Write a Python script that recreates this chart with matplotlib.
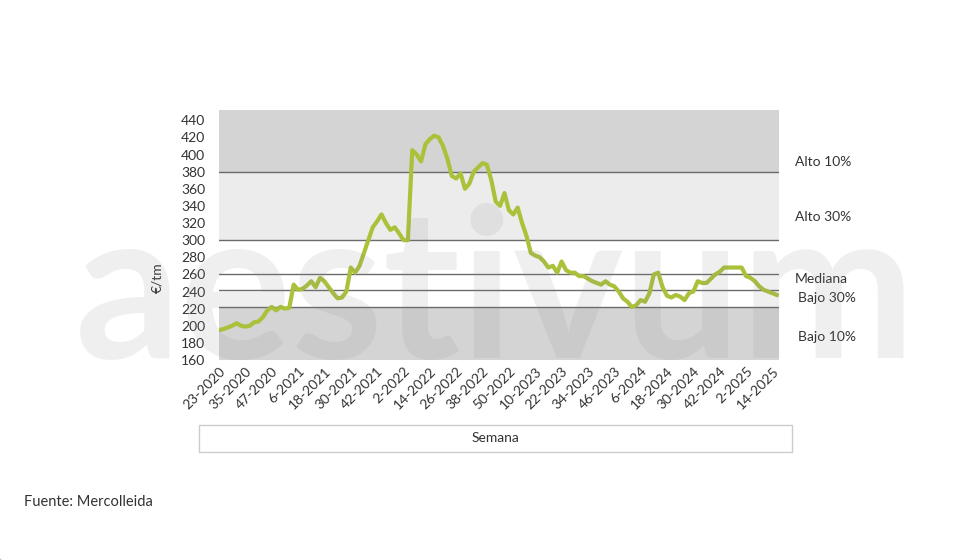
import matplotlib
matplotlib.use('Agg')
import matplotlib.pyplot as plt
from matplotlib.patches import Rectangle

plt.rcParams['font.family'] = ['Lato', 'DejaVu Sans']

# biweekly prices, starting week 23-2020
prices = [
    195, 196, 198, 200, 203, 200,
    199, 200, 204, 205, 210, 218,
    222, 218, 222, 220, 221, 248,
    242, 243, 247, 252, 245, 256,
    252, 245, 238, 232, 233, 240,
    268, 262, 270, 285, 300, 315,
    322, 330, 320, 312, 315, 308,
    300, 300, 405, 400, 392, 412,
    418, 422, 420, 410, 395, 375,
    372, 378, 360, 366, 380, 385,
    390, 388, 370, 345, 340, 355,
    335, 330, 338, 320, 305, 285,
    282, 280, 275, 268, 270, 262,
    275, 265, 262, 262, 258, 258,
    255, 252, 250, 248, 252, 248,
    246, 240, 232, 228, 222, 224,
    230, 228, 238, 260, 262, 245,
    235, 233, 236, 234, 230, 238,
    240, 252, 250, 250, 255, 260,
    263, 268, 268, 268, 268, 268,
    258, 256, 252, 246, 242, 240,
    238, 236,
]
tick_labels = ['23-2020', '35-2020', '47-2020', '6-2021', '18-2021', '30-2021', '42-2021',
               '2-2022', '14-2022', '26-2022', '38-2022', '50-2022', '10-2023', '22-2023',
               '34-2023', '46-2023', '6-2024', '18-2024', '30-2024', '42-2024', '2-2025',
               '14-2025']
band_lines = [222, 242, 260, 300, 380]
band_names = ['Alto 10%', 'Alto 30%', 'Mediana', 'Bajo 30%', 'Bajo 10%']
band_label_y = [391, 327, 255, 232, 187]
band_label_dx = [16, 16, 16, 19, 19]

W, H = 980, 560
fig = plt.figure(figsize=(W / 100, H / 100), dpi=100)
ax = fig.add_axes((219 / W, 1 - 360 / H, 560 / W, 250 / H))

x = [i * 2 for i in range(len(prices))]
xmax = 255
ymax = 452
ax.axhspan(150, band_lines[0], color='#d4d4d4', lw=0)
ax.axhspan(band_lines[3], band_lines[4], color='#ececec', lw=0)
ax.axhspan(band_lines[4], ymax, color='#d4d4d4', lw=0)
for v in band_lines:
    ax.axhline(v, color='#6b6b6b', lw=1)
ax.plot(x, prices, color='#a9c23a', lw=3, solid_joinstyle='round', zorder=5)

# watermark
fig.text(495 / W, 1 - 298 / H, 'aestivum', fontsize=150, color='#888888', alpha=0.13,
         ha='center', va='center', fontweight='bold', zorder=4)

ax.set_xlim(0, xmax)
ax.set_ylim(160, ymax)
ax.set_yticks(range(160, 441, 20))
ax.set_xticks([i * 12 for i in range(len(tick_labels))])
ax.set_xticklabels(tick_labels, rotation=45, ha='right', rotation_mode='anchor')
ax.tick_params(length=0, labelsize=10, colors='#333333')
ax.tick_params(axis='y', pad=10)
for s in ax.spines.values():
    s.set_visible(False)

trans = ax.get_yaxis_transform()
for name, yv, dx in zip(band_names, band_label_y, band_label_dx):
    ax.text(1 + dx / 560, yv, name, transform=trans, fontsize=10, color='#333333',
            va='center', clip_on=False)

# y-axis bracket and label
fig.lines.append(plt.Line2D([145 / W, 145 / W], [1 - 160 / H, 1 - 395 / H], color='#bbbbbb', lw=1))
fig.lines.append(plt.Line2D([145 / W, 170 / W], [1 - 160 / H, 1 - 160 / H], color='#bbbbbb', lw=1))
fig.lines.append(plt.Line2D([145 / W, 170 / W], [1 - 395 / H, 1 - 395 / H], color='#bbbbbb', lw=1))
fig.text(157 / W, 1 - 278 / H, '€/tm', rotation=90, ha='center', va='center', fontsize=10, color='#333333')

fig.patches.append(Rectangle((199 / W, 1 - 452 / H), 593 / W, 27 / H, transform=fig.transFigure,
                             fill=False, edgecolor='#cccccc', lw=1))
fig.text(495 / W, 1 - 438 / H, 'Semana', ha='center', va='center', fontsize=10, color='#333333')

fig.lines.append(plt.Line2D([15 / W, 970 / W], [1 - 492 / H, 1 - 492 / H], color='#c9dbe0', lw=1))
fig.text(24 / W, 1 - 502 / H, 'Fuente: Mercolleida', ha='left', va='center', fontsize=10.5, color='#333333')

fig.savefig('out.png', dpi=100)
